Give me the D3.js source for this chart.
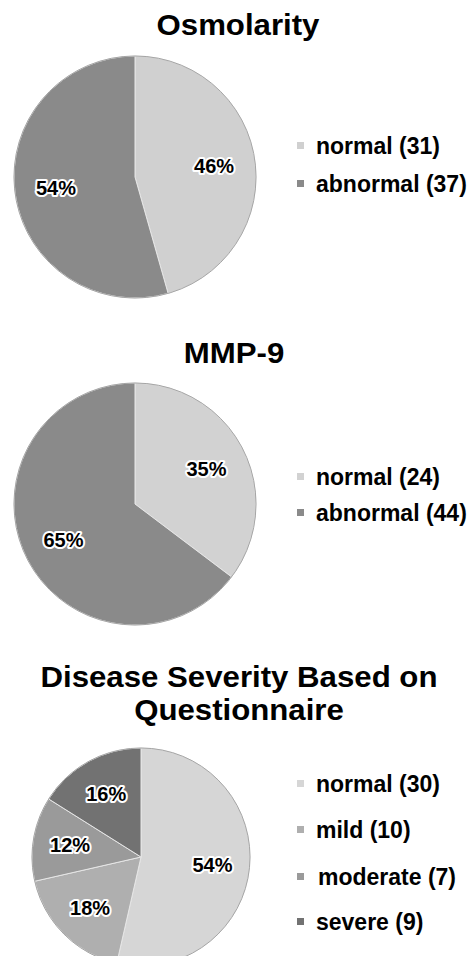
<!DOCTYPE html>
<html>
<head>
<meta charset="utf-8">
<script src="https://cdn.jsdelivr.net/npm/d3@7"></script>
<style>
  body { margin: 0; background: #fff; }
  svg { display: block; font-family: "Liberation Sans", Arial, sans-serif; font-weight: bold; }
</style>
</head>
<body>
<svg id="chart" width="470" height="956"></svg>
<script>
"use strict"

// data
let osmoCategories = ["normal", "abnormal"]
let osmoCounts = [31, 37]
let osmoPercents = ["46%", "54%"]

let mmpCategories = ["normal", "abnormal"]
let mmpCounts = [24, 44]
let mmpPercents = ["35%", "65%"]

let severityCategories = ["normal", "mild", "moderate", "severe"]
let severityCounts = [30, 10, 7, 9]
let severityPercents = ["54%", "18%", "12%", "16%"]

let svg = d3.select("#chart")

function drawPie(opts) {
    let g = svg.append("g")

    // title, one or more lines
    g.selectAll("text.title")
        .data(opts.title)
        .enter().append("text")
        .attr("class", "title")
        .attr("x", opts.titleX)
        .attr("y", function(d, i) { return opts.titleY + i * 33 })
        .attr("text-anchor", "middle")
        .attr("font-size", 30)
        .attr("transform", "translate(" + opts.titleX + ",0) scale(1.04,1) translate(" + (-opts.titleX) + ",0)")
        .text(function(d) { return d })

    let color = d3.scaleOrdinal().domain(opts.categories).range(opts.colors)

    let pie = d3.pie().sort(null).value(function(d) { return d.count })
    let rows = opts.categories.map(function(c, i) {
        return { name: c, count: opts.counts[i], pct: opts.percents[i] }
    })
    let arcs = pie(rows)

    let arc = d3.arc().innerRadius(0).outerRadius(opts.r)
    let labelArc = d3.arc().innerRadius(opts.r * 0.66).outerRadius(opts.r * 0.66)

    let pg = g.append("g").attr("transform", "translate(" + opts.cx + "," + opts.cy + ")")

    pg.selectAll("path")
        .data(arcs)
        .enter().append("path")
        .attr("d", arc)
        .attr("fill", function(d) { return color(d.data.name) })
        .attr("stroke", "#e6e6e6")
        .attr("stroke-width", 1)

    pg.append("circle")
        .attr("r", opts.r)
        .attr("fill", "none")
        .attr("stroke", "#a5a5a5")
        .attr("stroke-width", 1)

    pg.selectAll("text.pct")
        .data(arcs)
        .enter().append("text")
        .attr("class", "pct")
        .attr("transform", function(d) { return "translate(" + labelArc.centroid(d) + ")" })
        .attr("text-anchor", "middle")
        .attr("dy", "0.36em")
        .attr("font-size", 20)
        .attr("stroke", "#fff")
        .attr("stroke-width", 4)
        .attr("stroke-linejoin", "round")
        .attr("paint-order", "stroke")
        .attr("fill", "#000")
        .text(function(d) { return d.data.pct })

    // legend
    let lg = g.selectAll("g.legend")
        .data(rows)
        .enter().append("g")
        .attr("class", "legend")
        .attr("transform", function(d, i) { return "translate(297," + opts.legendY[i] + ")" })

    lg.append("rect")
        .attr("x", 0)
        .attr("y", -12)
        .attr("width", 7)
        .attr("height", 7)
        .attr("fill", function(d) { return color(d.name) })

    lg.append("text")
        .attr("x", function(d) { return d.name == "moderate" ? 21 : 19 })
        .attr("font-size", 23)
        .text(function(d) { return d.name + " (" + d.count + ")" })
}

drawPie({
    title: ["Osmolarity"], titleX: 238, titleY: 35,
    categories: osmoCategories, counts: osmoCounts, percents: osmoPercents,
    colors: ["#d0d0d0", "#8a8a8a"],
    cx: 135, cy: 177, r: 121,
    legendY: [154, 192]
})

drawPie({
    title: ["MMP-9"], titleX: 234, titleY: 363,
    categories: mmpCategories, counts: mmpCounts, percents: mmpPercents,
    colors: ["#d2d2d2", "#8a8a8a"],
    cx: 135, cy: 504, r: 121,
    legendY: [485, 521]
})

drawPie({
    title: ["Disease Severity Based on", "Questionnaire"], titleX: 239, titleY: 687,
    categories: severityCategories, counts: severityCounts, percents: severityPercents,
    colors: ["#d6d6d6", "#afafaf", "#9a9a9a", "#727272"],
    cx: 141, cy: 857, r: 109,
    legendY: [792, 838, 885, 930]
})
</script>
</body>
</html>
